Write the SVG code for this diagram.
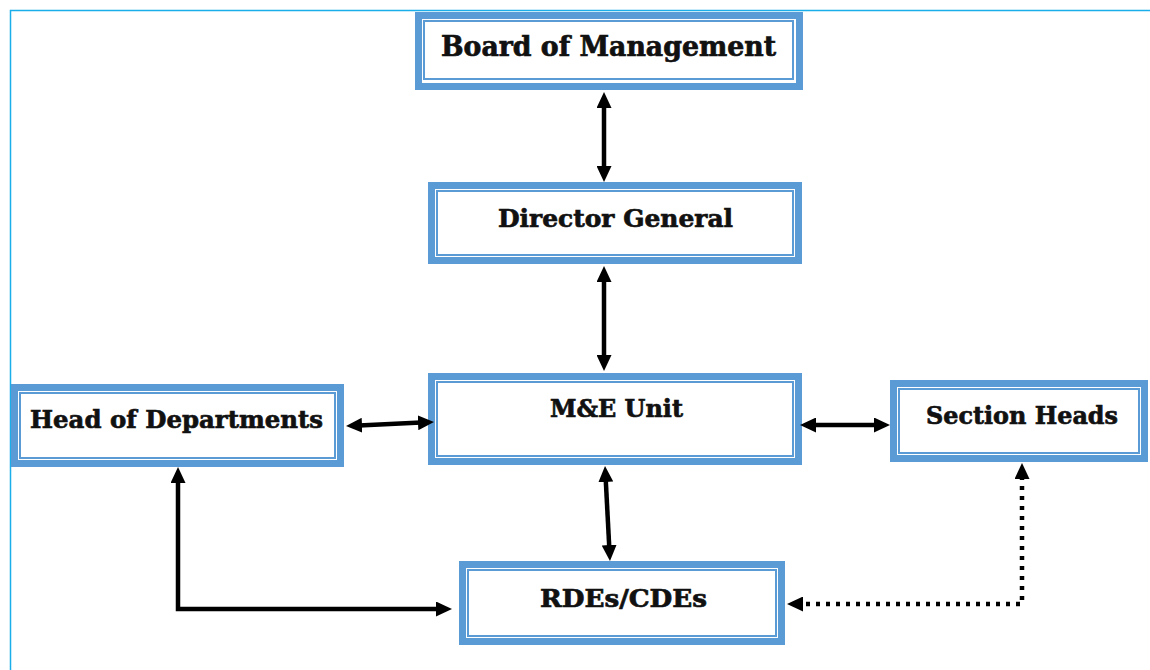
<svg xmlns="http://www.w3.org/2000/svg" width="1150" height="670" viewBox="0 0 1150 670">
<style>
.outer{fill:#fff;stroke:#5B9BD5;stroke-width:7}
.inner{fill:none;stroke:#5B9BD5;stroke-width:2}
.lbl{font-family:"DejaVu Serif","Liberation Serif",serif;font-weight:bold;font-size:25px;fill:#111;stroke:#111;stroke-width:0.7;text-anchor:middle}
.conn{fill:none;stroke:#000;stroke-width:4.5}
.dot{stroke-dasharray:4 6}
.frame{stroke:#1AAFEA;stroke-width:1.5;fill:none}
</style>
<defs>
<marker id="ah" viewBox="0 0 16 15" refX="3" refY="7.5" markerWidth="16" markerHeight="15" markerUnits="userSpaceOnUse" orient="auto-start-reverse">
<path d="M0,0 L16,7.5 L0,15 z" fill="#000"/>
</marker>
</defs>
<path class="frame" d="M10.5,670 L10.5,10.5 L1150,10.5"/>
<g id="board">
<rect class="outer" x="418.5" y="15.5" width="381" height="71"/>
<rect class="inner" x="424" y="21" width="369" height="58"/>
<text class="lbl" x="608.5" y="56" style="font-size:27px" textLength="335" lengthAdjust="spacingAndGlyphs">Board of Management</text>
</g>
<g id="director">
<rect class="outer" x="431.5" y="185.5" width="367" height="75"/>
<rect class="inner" x="437" y="191" width="356" height="64"/>
<text class="lbl" x="615.5" y="227" textLength="235" lengthAdjust="spacingAndGlyphs">Director General</text>
</g>
<g id="me">
<rect class="outer" x="431.5" y="376.5" width="367" height="85"/>
<rect class="inner" x="437" y="382" width="356" height="74"/>
<text class="lbl" x="616.5" y="417" textLength="133" lengthAdjust="spacingAndGlyphs">M&amp;E Unit</text>
</g>
<g id="hod">
<rect class="outer" x="14.5" y="387.5" width="326" height="76"/>
<rect class="inner" x="20" y="393" width="315" height="65"/>
<text class="lbl" x="176.5" y="428" textLength="293" lengthAdjust="spacingAndGlyphs">Head of Departments</text>
</g>
<g id="section">
<rect class="outer" x="893.5" y="383.5" width="251" height="75"/>
<rect class="inner" x="899" y="389" width="240" height="64"/>
<text class="lbl" x="1022" y="424" textLength="192" lengthAdjust="spacingAndGlyphs">Section Heads</text>
</g>
<g id="rdes">
<rect class="outer" x="462.5" y="564.5" width="319" height="77"/>
<rect class="inner" x="468" y="570" width="308" height="66"/>
<text class="lbl" x="623.5" y="607" textLength="167" lengthAdjust="spacingAndGlyphs">RDEs/CDEs</text>
</g>
<g id="connectors">
<path class="conn" d="M604,105 L604,169" marker-start="url(#ah)" marker-end="url(#ah)"/>
<path class="conn" d="M604,279 L604,358" marker-start="url(#ah)" marker-end="url(#ah)"/>
<path class="conn" d="M359,425.4 L421,422.6" marker-start="url(#ah)" marker-end="url(#ah)"/>
<path class="conn" d="M813,425 L877,425" marker-start="url(#ah)" marker-end="url(#ah)"/>
<path class="conn" d="M605.7,479 L609.3,548" marker-start="url(#ah)" marker-end="url(#ah)"/>
<path class="conn" d="M178,480 L178,609 L439,609" marker-start="url(#ah)" marker-end="url(#ah)"/>
<path class="conn dot" d="M1022,476 L1022,604 L800,604" marker-start="url(#ah)" marker-end="url(#ah)"/>
</g>
</svg>
